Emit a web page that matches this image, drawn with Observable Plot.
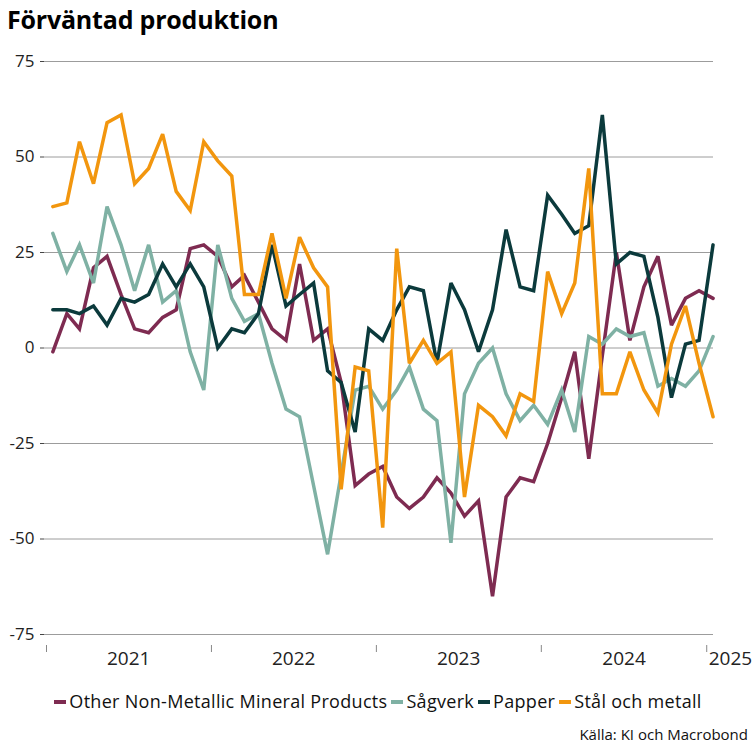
<!DOCTYPE html>
<html><head><meta charset="utf-8">
<script src="https://cdn.jsdelivr.net/npm/d3@7"></script>
<script src="https://cdn.jsdelivr.net/npm/@observablehq/plot@0.6"></script>
<style>
body{margin:0;background:#fff;font-family:"Open Sans",sans-serif;color:#111;}
#wrap{position:relative;width:756px;height:756px;overflow:hidden;}
#title{position:absolute;left:7px;top:2px;font-weight:700;font-size:25px;color:#000;letter-spacing:-0.2px;}
#chart{position:absolute;left:0;top:0;}
#legend{position:absolute;top:689px;left:0;width:756px;text-align:center;font-size:18px;white-space:nowrap;letter-spacing:0.3px;}
#legend .it{display:inline-block;margin:0 2px;}
#legend .sw{display:inline-block;width:12px;height:4px;vertical-align:middle;margin-right:3px;position:relative;top:-1px;}
#source{position:absolute;right:8px;top:724px;font-size:15px;}
</style></head>
<body>
<div id="wrap">
<div id="chart"></div>
<div id="title">Förväntad produktion</div>
<div id="legend"></div>
<div id="source">Källa: KI och Macrobond</div>
</div>
<script>
const seriesNames = ["Other Non-Metallic Mineral Products", "Sågverk", "Papper", "Stål och metall"];
const seriesColors = ["#7e2b51", "#7fb1a4", "#0b3a3c", "#f2960e"];
const startMonth = "2021-01";
const otherNonMetallic = [-1, 9, 5, 21, 24, 14, 5, 4, 8, 10, 26, 27, 24, 16, 19, 12, 5, 2, 22, 2, 5, -9, -36, -33, -31, -39, -42, -39, -34, -38, -44, -40, -65, -39, -34, -35, -25, -13, -1, -29, -2, 25, 2, 16, 24, 6, 13, 15, 13];
const sagverk = [30, 20, 27, 17, 37, 27, 15, 27, 12, 15, -1, -11, 27, 13, 7, 9, -4, -16, -18, -36, -54, -33, -11, -10, -16, -11, -5, -16, -19, -51, -12, -4, 0, -12, -19, -15, -20, -11, -22, 3, 1, 5, 3, 4, -10, -8, -10, -6, 3];
const papper = [10, 10, 9, 11, 6, 13, 12, 14, 22, 16, 22, 16, 0, 5, 4, 9, 27, 11, 14, 17, -6, -9, -22, 5, 2, 10, 16, 15, -4, 17, 10, -1, 10, 31, 16, 15, 40, 35, 30, 32, 61, 22, 25, 24, 8, -13, 1, 2, 27];
const stal = [37, 38, 54, 43, 59, 61, 43, 47, 56, 41, 36, 54, 49, 45, 14, 14, 30, 13, 29, 21, 16, -37, -5, -6, -47, 26, -4, 2, -4, -1, -39, -15, -18, -23, -12, -14, 20, 9, 17, 47, -12, -12, -1, -11, -17, 1, 11, -4, -18];
const yTicks = [-75, -50, -25, 0, 25, 50, 75];
const yearLabels = ["2021", "2022", "2023", "2024", "2025"];

const allSeries = [otherNonMetallic, sagverk, papper, stal];
const start = new Date(startMonth + "-01T00:00:00Z");
const monthDate = i => new Date(Date.UTC(start.getUTCFullYear(), start.getUTCMonth() + i, 15));
const rows = [];
allSeries.forEach((vals, s) => vals.forEach((v, i) => rows.push({date: monthDate(i), value: v, series: seriesNames[s]})));
const yearStarts = yearLabels.map(y => new Date(Date.UTC(+y, 0, 1)));
const yearMids = yearLabels.slice(0, 4).map(y => new Date(Date.UTC(+y, 6, 2)));

const chart = Plot.plot({
  width: 756, height: 690,
  marginTop: 61, marginBottom: 45, marginLeft: 44, marginRight: 43,
  insetBottom: 11, insetLeft: 2,
  style: {fontFamily: "'Open Sans', sans-serif", background: "#fff"},
  x: {type: "utc", domain: [new Date(Date.UTC(2021, 0, 1)), new Date(Date.UTC(2025, 0, 16))], axis: null},
  y: {domain: [-75, 75], axis: null},
  color: {domain: seriesNames, range: seriesColors},
  marks: [
    Plot.gridY(yTicks, {stroke: "#9c9c9c", strokeOpacity: 1, strokeWidth: 1}),
    Plot.axisY(yTicks, {tickSize: 4, tickPadding: 6, fontSize: 17, stroke: "#444", color: "#222", label: null, tickFormat: d => String(d)}),
    Plot.axisX(yearStarts, {tickSize: 7, tickFormat: () => "", stroke: "#888", label: null}),
    Plot.text(yearMids, {x: d => d, frameAnchor: "bottom", dy: 19, text: (d, i) => yearLabels[i], fontSize: 19, fill: "#222"}),
    Plot.text([yearStarts[4]], {x: d => d, frameAnchor: "bottom", dy: 19, text: () => yearLabels[4], textAnchor: "start", dx: 2, fontSize: 19, fill: "#222"}),
    Plot.line(rows, {x: "date", y: "value", z: "series", stroke: "series", strokeWidth: 3.5, strokeLinejoin: "miter", strokeMiterlimit: 3})
  ]
});
document.getElementById("chart").appendChild(chart);

const leg = document.getElementById("legend");
seriesNames.forEach((n, i) => {
  const it = document.createElement("span");
  it.className = "it";
  it.innerHTML = `<span class="sw" style="background:${seriesColors[i]}"></span>${n}`;
  leg.appendChild(it);
});
</script>
</body></html>
